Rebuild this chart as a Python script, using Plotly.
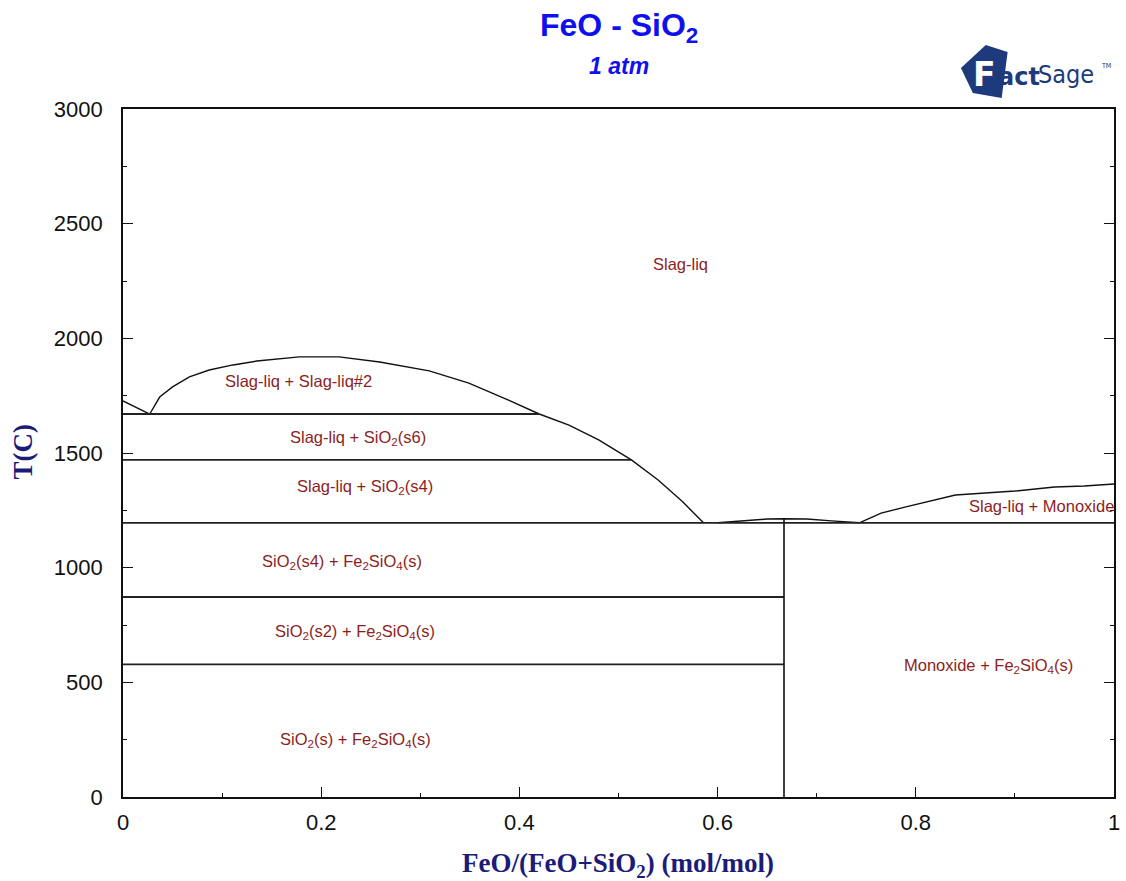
import plotly.graph_objects as go

# ---- phase-boundary data: x = FeO/(FeO+SiO2) mole fraction, T in deg C ----
# SiO2 liquidus down to the monotectic
sio2_liq_x = [0.0, 0.027]
sio2_liq_t = [1727, 1670]

# liquid miscibility gap + cristobalite / tridymite liquidus
gap_x = [0.027, 0.037, 0.050, 0.067, 0.087, 0.111, 0.135, 0.178, 0.218, 0.259,
         0.309, 0.349, 0.389, 0.420, 0.450, 0.480, 0.513, 0.540, 0.565, 0.586]
gap_t = [1670, 1744, 1788, 1832, 1862, 1884, 1901, 1919, 1919, 1897,
         1858, 1805, 1731, 1670, 1622, 1557, 1470, 1382, 1286, 1195]

# fayalite (Fe2SiO4) liquidus
fay_x = [0.600, 0.625, 0.650, 0.667, 0.690, 0.715, 0.743]
fay_t = [1196, 1204, 1212, 1213, 1212, 1204, 1196]

# monoxide liquidus
mono_x = [0.743, 0.765, 0.790, 0.840, 0.900, 0.940, 0.970, 1.000]
mono_t = [1195, 1238, 1265, 1317, 1334, 1352, 1356, 1365]

# invariant isotherms (start at x = 0)
iso_t = [1670, 1470, 1195, 872, 578]
iso_x_end = [0.420, 0.513, 1.000, 0.667, 0.667]

# Fe2SiO4 compound line
fay_comp_x = 0.667
fay_comp_tmax = 1213

# phase-field labels
label_text = [
    "Slag-liq",
    "Slag-liq + Slag-liq#2",
    "Slag-liq + SiO<sub>2</sub>(s6)",
    "Slag-liq + SiO<sub>2</sub>(s4)",
    "SiO<sub>2</sub>(s4) + Fe<sub>2</sub>SiO<sub>4</sub>(s)",
    "SiO<sub>2</sub>(s2) + Fe<sub>2</sub>SiO<sub>4</sub>(s)",
    "SiO<sub>2</sub>(s) + Fe<sub>2</sub>SiO<sub>4</sub>(s)",
    "Monoxide + Fe<sub>2</sub>SiO<sub>4</sub>(s)",
    "Slag-liq + Monoxide",
]
label_x = [0.563, 0.177, 0.237, 0.244, 0.221, 0.234, 0.235, 0.873, 0.927]
label_t = [2324, 1814, 1566, 1352, 1025, 720, 249, 571, 1269]

x_ticks = [0, 0.2, 0.4, 0.6, 0.8, 1.0]
x_tick_text = ["0", "0.2", "0.4", "0.6", "0.8", "1"]
y_ticks = [0, 500, 1000, 1500, 2000, 2500, 3000]
y_tick_text = ["0", "500", "1000", "1500", "2000", "2500", "3000"]

W, H = 1126, 881
ML, MR, MT, MB = 123, 6, 109, 84
PL, PR, PT, PB = ML, W - MR, MT, H - MB  # plot-area edges in page pixels


def px(xp):
    return (xp - PL) / (PR - PL)


def py(yp):
    return (PB - yp) / (PB - PT)


LINE = dict(color="#111111", width=1.4)
LABEL_COLOR = "#8B1E1E"
NAVY = "#1c1c78"
BLUE = "#1010ee"

fig = go.Figure()

for xs, ts in [(sio2_liq_x, sio2_liq_t), (gap_x, gap_t), (fay_x, fay_t), (mono_x, mono_t)]:
    fig.add_trace(go.Scatter(x=xs, y=ts, mode="lines", line=LINE,
                             hoverinfo="skip", showlegend=False))

for t, xe in zip(iso_t, iso_x_end):
    fig.add_trace(go.Scatter(x=[0, xe], y=[t, t], mode="lines",
                             line=dict(color="#222222", width=1.8),
                             hoverinfo="skip", showlegend=False))

fig.add_trace(go.Scatter(x=[fay_comp_x, fay_comp_x], y=[0, fay_comp_tmax], mode="lines",
                         line=dict(color="#111111", width=1.6),
                         hoverinfo="skip", showlegend=False))

for txt, lx, lt in zip(label_text, label_x, label_t):
    fig.add_annotation(x=lx, y=lt, xref="x", yref="y", text=txt, showarrow=False,
                       xanchor="center", yanchor="middle",
                       font=dict(family="Arial, Liberation Sans", size=16.5, color=LABEL_COLOR))


def page_text(x, y, text, font, **kw):
    opts = dict(xanchor="center", yanchor="middle")
    opts.update(kw)
    fig.add_annotation(x=px(x), y=py(y), xref="paper", yref="paper", showarrow=False,
                       text=text, font=font, **opts)


# title and subtitle
page_text(622, 27, "<b>FeO - SiO<sub>2</sub></b>",
          dict(family="Arial, Liberation Sans", size=32, color=BLUE))
page_text(622, 66, "<b><i>1 atm</i></b>",
          dict(family="Arial, Liberation Sans", size=23, color=BLUE))

# axis titles
page_text(621, 865, "<b>FeO/(FeO+SiO<sub>2</sub>) (mol/mol)</b>",
          dict(family="Liberation Serif, Times New Roman", size=27, color=NAVY))
page_text(22, 452, "<b>T(C)</b>",
          dict(family="Liberation Serif, Times New Roman", size=27, color=NAVY),
          textangle=-90)

# FactSage logo
logo_col = "#1d3b7c"
quad = [(966, 68), (991, 45), (1013, 52), (1007, 98), (978, 93)]
path = "M " + " L ".join(f"{px(a)},{py(b)}" for a, b in quad) + " Z"
fig.add_shape(type="path", path=path, xref="paper", yref="paper",
              fillcolor=logo_col, line=dict(width=0))
page_text(990, 74, "<b>F</b>", dict(family="DejaVu Sans", size=33, color="white"))
page_text(1001, 77, "<b>act</b>", dict(family="DejaVu Sans", size=24, color=logo_col),
          xanchor="left")
page_text(1042, 75, "Sage", dict(family="DejaVu Sans Condensed", size=25, color=logo_col),
          xanchor="left")
page_text(1105, 66, "TM", dict(family="DejaVu Sans Condensed", size=7, color=logo_col),
          xanchor="left")

axis_common = dict(
    showgrid=False, zeroline=False, showline=True, linecolor="#111111", linewidth=1.6,
    ticks="inside", ticklen=10, tickwidth=1.4, tickcolor="#111111",
    tickfont=dict(family="Arial, Liberation Sans", size=22, color="#111111"),
)

fig.update_xaxes(range=[0, 1], tickvals=x_ticks, ticktext=x_tick_text, mirror=True,
                 minor=dict(dtick=0.1, ticks="inside", ticklen=4, tickcolor="#111111"),
                 ticklabelstandoff=5, ticklabeloverflow="allow", **axis_common)
fig.update_yaxes(range=[0, 3000], tickvals=y_ticks, ticktext=y_tick_text, mirror="ticks",
                 minor=dict(dtick=250, ticks="inside", ticklen=4, tickcolor="#111111"),
                 ticklabelstandoff=14, **axis_common)

fig.update_layout(width=W, height=H, margin=dict(l=ML, r=MR, t=MT, b=MB),
                  plot_bgcolor="white", paper_bgcolor="white", showlegend=False)

fig.write_html("out.html")
